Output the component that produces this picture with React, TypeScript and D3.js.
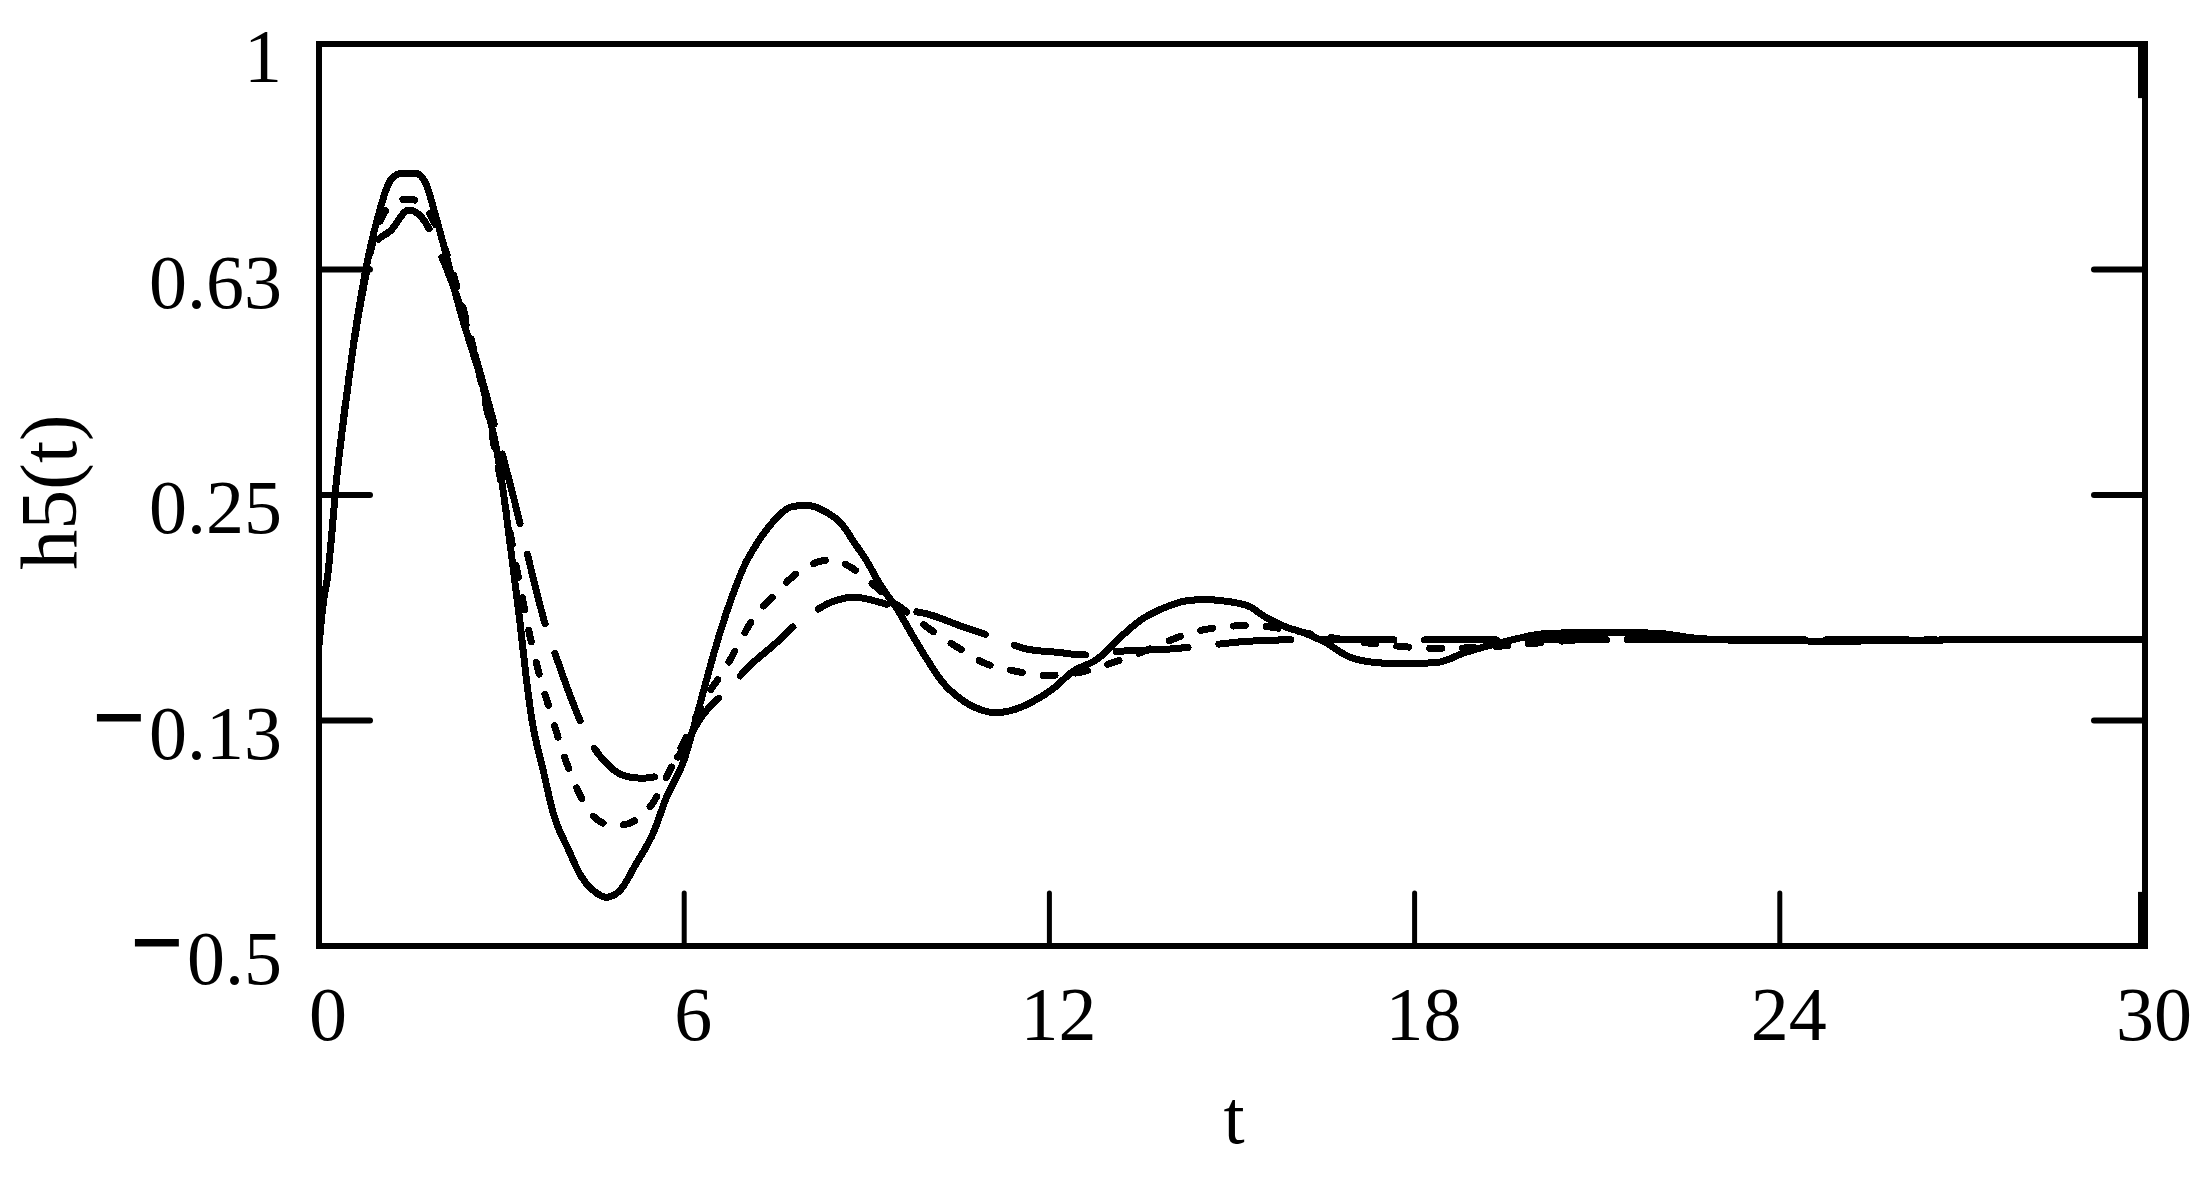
import React from "react";
import * as d3 from "d3";

const W = 2204;
const H = 1186;

// axis ticks
const xTicks = [0, 6, 12, 18, 24, 30];
const xTickLabels = ["0", "6", "12", "18", "24", "30"];
const yTicks = [1, 0.625, 0.25, -0.125, -0.5];
const yTickLabels = ["1", "0.63", "0.25", "−0.13", "−0.5"];

// solid curve
const solidT = [0, 0.07, 0.14, 0.3, 0.41, 0.5, 0.6, 0.7, 0.8, 0.9, 1.0, 1.1, 1.2, 1.37, 1.59, 1.75, 1.9, 2.1, 2.3, 2.55, 2.68, 2.8, 2.91, 3.0, 3.1, 3.2, 3.3, 3.4, 3.5, 3.67, 3.86, 4.1, 4.3, 4.5, 4.72, 4.95, 5.2, 5.5, 5.7, 6.0, 6.2, 6.4, 6.6, 6.8, 7.0, 7.2, 7.5, 7.75, 8.0, 8.27, 8.6, 8.8, 9.0, 9.2, 9.5, 9.8, 10.0, 10.25, 10.5, 10.9, 11.1, 11.35, 11.7, 12.1, 12.35, 12.8, 13.15, 13.5, 13.9, 14.25, 14.55, 14.85, 15.3, 15.5, 15.85, 16.2, 16.55, 16.9, 17.3, 17.8, 18.4, 18.8, 19.6, 20.1, 21.0, 22.0, 22.6, 23.5, 25, 27, 30];
const solidH = [0, 0.07, 0.114, 0.287, 0.38, 0.45, 0.524, 0.586, 0.641, 0.686, 0.724, 0.757, 0.777, 0.785, 0.785, 0.769, 0.72, 0.645, 0.563, 0.48, 0.436, 0.38, 0.33, 0.275, 0.2, 0.12, 0.04, -0.05, -0.125, -0.202, -0.283, -0.34, -0.383, -0.407, -0.419, -0.407, -0.365, -0.31, -0.255, -0.19, -0.12, -0.045, 0.025, 0.085, 0.135, 0.17, 0.21, 0.23, 0.233, 0.225, 0.2, 0.17, 0.14, 0.104, 0.06, 0.008, -0.025, -0.062, -0.086, -0.108, -0.112, -0.109, -0.095, -0.069, -0.046, -0.022, 0.012, 0.042, 0.063, 0.074, 0.076, 0.074, 0.064, 0.05, 0.032, 0.02, 0.004, -0.018, -0.028, -0.031, -0.028, -0.013, 0.009, 0.019, 0.022, 0.02, 0.012, 0.008, 0.007, 0.009, 0.009];

// short-dash curve
const dotT = [0, 0.07, 0.14, 0.3, 0.5, 0.7, 0.9, 1.05, 1.25, 1.45, 1.65, 1.85, 2.05, 2.3, 2.5, 2.7, 2.9, 3.1, 3.3, 3.5, 3.65, 3.81, 3.95, 4.11, 4.33, 4.57, 4.85, 5.1, 5.3, 5.48, 5.67, 6.0, 6.36, 6.69, 6.93, 7.15, 7.45, 7.78, 8.1, 8.4, 8.7, 9.0, 9.4, 9.8, 10.13, 10.52, 10.9, 11.4, 11.95, 12.5, 13.0, 13.5, 13.9, 14.3, 14.8, 15.3, 15.8, 16.4, 17.0, 17.6, 18.3, 19.0, 19.8, 20.6, 22, 24, 27, 30];
const dotH = [0, 0.07, 0.114, 0.287, 0.452, 0.582, 0.676, 0.715, 0.736, 0.742, 0.738, 0.712, 0.665, 0.585, 0.51, 0.42, 0.32, 0.21, 0.1, 0.0, -0.06, -0.113, -0.16, -0.207, -0.257, -0.29, -0.3, -0.296, -0.282, -0.263, -0.227, -0.16, -0.086, -0.036, 0.009, 0.047, 0.08, 0.114, 0.135, 0.142, 0.132, 0.11, 0.075, 0.045, 0.02, -0.005, -0.028, -0.042, -0.05, -0.045, -0.03, -0.012, 0.005, 0.02, 0.03, 0.033, 0.028, 0.017, 0.007, 0.0, -0.005, -0.004, 0.002, 0.008, 0.01, 0.009, 0.009, 0.009];

// long-dash curve
const dashT = [0, 0.07, 0.14, 0.3, 0.5, 0.7, 0.9, 1.18, 1.48, 1.7, 2.0, 2.3, 2.6, 2.9, 3.2, 3.5, 3.73, 3.9, 4.15, 4.4, 4.72, 5.05, 5.3, 5.5, 5.7, 6.0, 6.25, 6.7, 7.12, 7.51, 7.78, 8.1, 8.5, 8.8, 9.2, 9.6, 10.0, 10.6, 11.13, 11.62, 12.17, 12.55, 13.15, 14.0, 14.6, 15.3, 16.5, 18, 20, 24, 30];
const dashH = [0, 0.07, 0.114, 0.287, 0.45, 0.578, 0.665, 0.69, 0.724, 0.71, 0.65, 0.57, 0.47, 0.36, 0.245, 0.12, 0.03, -0.02, -0.09, -0.15, -0.196, -0.218, -0.221, -0.219, -0.207, -0.17, -0.124, -0.075, -0.03, 0.004, 0.03, 0.054, 0.075, 0.08, 0.072, 0.06, 0.052, 0.03, 0.012, -0.006, -0.012, -0.016, -0.01, -0.006, 0.0, 0.007, 0.01, 0.009, 0.009, 0.009, 0.009];

const series = [
  { t: solidT, h: solidH, dash: "none" },
  { t: dotT, h: dotH, dash: "12 21" },
  { t: dashT, h: dashH, dash: "72 31" },
];

const FONT = "'Liberation Serif', 'Times New Roman', serif";

export default function App() {
  const x0 = 319, x1 = 2145, y0 = 44, y1 = 946;
  const x = d3.scaleLinear().domain([0, 30]).range([x0, x1]);
  const y = d3.scaleLinear().domain([-0.5, 1]).range([y1, y0]);
  const line = d3
    .line<[number, number]>()
    .x((d) => x(d[0]))
    .y((d) => y(d[1]))
    .curve(d3.curveMonotoneX);

  const tickLen = 51;
  const fs = 76;

  return (
    <svg
      width={W}
      height={H}
      viewBox={`0 0 ${W} ${H}`}
      style={{ position: "absolute", left: 0, top: 0, background: "#fff" }}
    >
      <rect x={0} y={0} width={W} height={H} fill="#fff" />
      <defs>
        <clipPath id="plotclip">
          <rect x={x0} y={y0 - 4} width={x1 - x0} height={y1 - y0 + 8} />
        </clipPath>
      </defs>

      {/* curves */}
      <g clipPath="url(#plotclip)">
        {series.map((s, i) => (
          <path
            key={i}
            d={line(s.t.map((t, k) => [t, s.h[k]] as [number, number])) || ""}
            fill="none"
            stroke="#000"
            strokeWidth={7}
            strokeLinejoin="round"
            strokeLinecap={s.dash === "none" ? "butt" : "round"}
            strokeDasharray={s.dash === "none" ? undefined : s.dash}
            shapeRendering="crispEdges"
          />
        ))}
      </g>

      {/* inner ticks: left and right */}
      {yTicks.slice(1, -1).map((v, i) => (
        <g key={"yt" + i}>
          <line x1={x0} x2={x0 + tickLen} y1={y(v)} y2={y(v)} stroke="#000" strokeWidth={6} strokeLinecap="round" />
          <line x1={x1 - tickLen} x2={x1} y1={y(v)} y2={y(v)} stroke="#000" strokeWidth={6} strokeLinecap="round" />
        </g>
      ))}
      {/* inner ticks: bottom */}
      {xTicks.slice(1, -1).map((t, i) => (
        <line key={"xt" + i} x1={x(t)} x2={x(t)} y1={y1} y2={y1 - tickLen - 2} stroke="#000" strokeWidth={5} strokeLinecap="round" />
      ))}

      {/* frame */}
      <rect x={x0} y={y0} width={x1 - x0} height={y1 - y0} fill="none" stroke="#000" strokeWidth={6} />
      {/* thick marks on right edge */}
      <line x1={x1 - 4} x2={x1 - 4} y1={y(1)} y2={y(0.91)} stroke="#000" strokeWidth={6} />
      <line x1={x1 - 4} x2={x1 - 4} y1={y(-0.41)} y2={y(-0.5)} stroke="#000" strokeWidth={6} />

      {/* y tick labels */}
      {yTicks.map((v, i) => {
        const lab = yTickLabels[i];
        const neg = lab.startsWith("−");
        return (
          <text key={"yl" + i} x={282} y={y(v) + 38} fontFamily={FONT} fontSize={fs} textAnchor="end" fill="#000">
            {neg ? (
              <>
                <tspan dy={-12} fontSize={88} stroke="#000" strokeWidth={3}>−</tspan>
                <tspan dy={12} dx={5}>{lab.slice(1)}</tspan>
              </>
            ) : (
              lab
            )}
          </text>
        );
      })}

      {/* x tick labels */}
      {xTicks.map((t, i) => (
        <text key={"xl" + i} x={x(t) + 9} y={1040} fontFamily={FONT} fontSize={fs} textAnchor="middle" fill="#000">
          {xTickLabels[i]}
        </text>
      ))}

      {/* axis titles */}
      <text x={(x0 + x1) / 2 + 2} y={1143} fontFamily={FONT} fontSize={fs} textAnchor="middle" fill="#000">
        t
      </text>
      <text
        transform={`translate(76, ${(y0 + y1) / 2 - 3}) rotate(-90)`}
        fontFamily={FONT}
        fontSize={80}
        textAnchor="middle"
        fill="#000"
      >
        h5(t)
      </text>
    </svg>
  );
}
